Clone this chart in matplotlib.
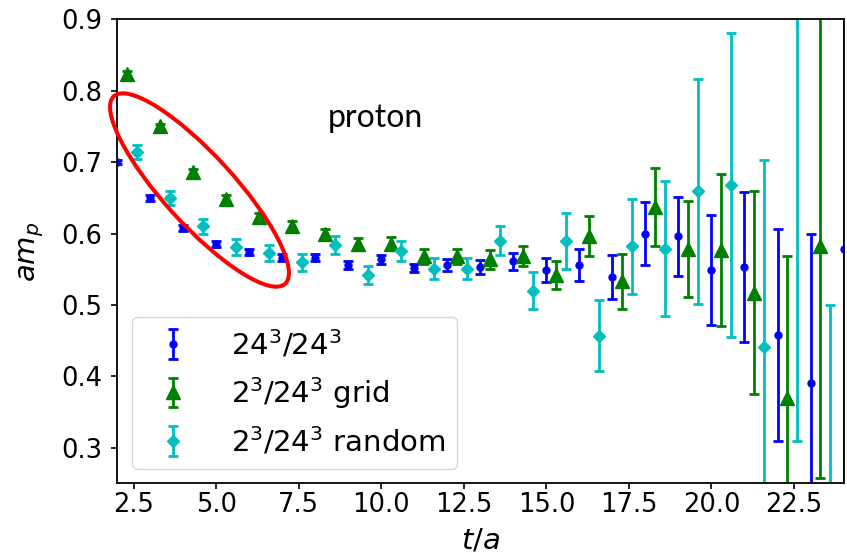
import numpy as np
import matplotlib.pyplot as plt
from matplotlib.patches import Ellipse

# time slices for each source setup (the three sets are drawn slightly shifted)
t_full = [2, 3, 4, 5, 6, 7, 8, 9, 10, 11, 12, 13, 14, 15, 16, 17, 18, 19, 20, 21, 22, 23, 24]
t_sub = [2, 3, 4, 5, 6, 7, 8, 9, 10, 11, 12, 13, 14, 15, 16, 17, 18, 19, 20, 21, 22, 23]

# 24^3/24^3
full_val = [0.700, 0.650, 0.608, 0.585, 0.574, 0.566, 0.566, 0.556, 0.564, 0.552, 0.556, 0.553,
            0.561, 0.549, 0.556, 0.539, 0.600, 0.596, 0.549, 0.553, 0.458, 0.390, 0.579]
full_err = [0.003, 0.004, 0.004, 0.004, 0.004, 0.005, 0.005, 0.005, 0.006, 0.006, 0.008, 0.010,
            0.012, 0.017, 0.022, 0.031, 0.044, 0.055, 0.077, 0.105, 0.149, 0.210, 0.450]

# 2^3/24^3 grid
grid_val = [0.824, 0.750, 0.686, 0.649, 0.623, 0.610, 0.599, 0.586, 0.586, 0.568, 0.568, 0.564,
            0.568, 0.542, 0.597, 0.533, 0.637, 0.578, 0.577, 0.517, 0.369, 0.582]
grid_err = [0.004, 0.004, 0.005, 0.005, 0.006, 0.007, 0.008, 0.008, 0.009, 0.010, 0.011, 0.013,
            0.014, 0.019, 0.028, 0.038, 0.055, 0.067, 0.107, 0.142, 0.200, 0.325]

# 2^3/24^3 random
rand_val = [0.714, 0.650, 0.610, 0.581, 0.573, 0.560, 0.584, 0.542, 0.576, 0.551, 0.551, 0.590,
            0.520, 0.590, 0.457, 0.582, 0.579, 0.659, 0.668, 0.441, 0.950, 0.200]
rand_err = [0.010, 0.010, 0.011, 0.011, 0.011, 0.012, 0.012, 0.013, 0.014, 0.015, 0.015, 0.020,
            0.026, 0.039, 0.050, 0.067, 0.094, 0.157, 0.213, 0.262, 0.640, 0.300]

labels = [r'$24^3/24^3$', r'$2^3/24^3$ grid', r'$2^3/24^3$ random']

fig = plt.figure(figsize=(8.47, 5.59), dpi=100)
ax = fig.add_axes([0.1385, 0.1352, 0.8574, 0.8301])

kw = dict(ls='none', elinewidth=2.0, capsize=3.4, capthick=2.0)
ax.errorbar(np.array(t_full), full_val, yerr=full_err, fmt='o', ms=5,
            color='b', label=labels[0], **kw)
ax.errorbar(np.array(t_sub) + 0.3, grid_val, yerr=grid_err, fmt='^', ms=9.5,
            color='g', label=labels[1], **kw)
ax.errorbar(np.array(t_sub) + 0.6, rand_val, yerr=rand_err, fmt='D', ms=6.5,
            color='c', label=labels[2], **kw)

ax.set_xlim(2, 24)
ax.set_ylim(0.25, 0.9)
ax.set_xticks(np.arange(2.5, 23, 2.5))
ax.set_yticks([0.3, 0.4, 0.5, 0.6, 0.7, 0.8, 0.9])
ax.tick_params(labelsize=18.5, length=4, width=1.2)
ax.tick_params(axis='x', pad=2)
ax.tick_params(axis='y', pad=7)
for s in ax.spines.values():
    s.set_linewidth(1.3)

ax.set_xlabel(r'$t/a$', fontsize=21, labelpad=6)
ax.set_ylabel(r'$am_p$', fontsize=21, labelpad=11)

ax.legend(loc='lower left', fontsize=21, handletextpad=1.0)

fig.text(0.4427, 0.7723, 'proton', family='Lato', fontsize=23,
         ha='center', va='baseline')

# red ellipse drawn on top of the early time slices
fig.add_artist(Ellipse((1.995, 3.69), 2.54, 0.70, angle=-47.6, fill=False,
                       edgecolor='red', lw=2.9, transform=fig.dpi_scale_trans))

fig.savefig('out.png', dpi=100)
